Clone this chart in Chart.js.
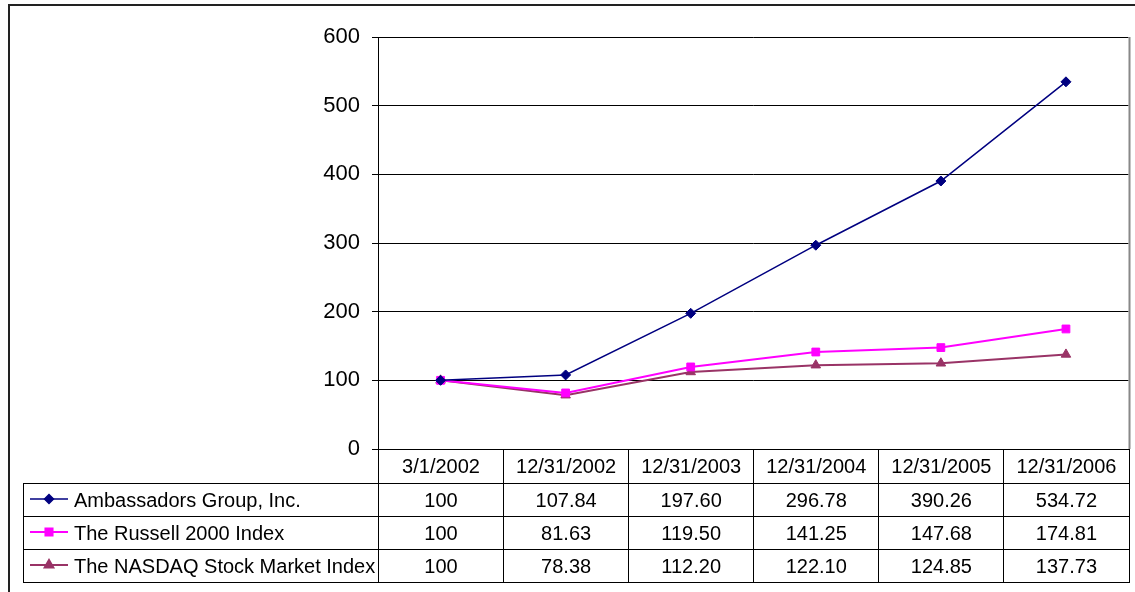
<!DOCTYPE html>
<html>
<head>
<meta charset="utf-8">
<script src="https://cdn.jsdelivr.net/npm/chart.js@4.4.0/dist/chart.umd.min.js"></script>
<style>
  body { margin: 0; background: #fff; font-family: 'Liberation Sans', Arial, sans-serif; }
  #wrap { position: relative; width: 1135px; height: 592px; overflow: hidden; }
  #frame { position: absolute; left: 8px; top: 4px; width: 1200px; height: 700px; border-left: 2px solid #222; border-top: 2px solid #222; }
  #chart { position: absolute; left: 0; top: 0; }
  #tbl { position: absolute; border-collapse: collapse; table-layout: fixed; font-size: 20px; color: #000; }
  #tbl td { border: 1px solid #000; text-align: center; padding: 0; white-space: nowrap; overflow: hidden; }
  #tbl tr.head td { height: 33px; }
  #tbl tr.row td { height: 32px; }
  #tbl td.blank { border-top: none; border-left: none; }
  #tbl td.name { text-align: left; padding-left: 5px; }
  #tbl td.name canvas { vertical-align: middle; margin-right: 5px; position: relative; top: -2px; }
</style>
</head>
<body>
<div id="wrap">
  <div id="frame"></div>
  <canvas id="chart" width="1135" height="592"></canvas>
  <table id="tbl"></table>
</div>
<script>
// dates on the x axis
const dates = ['3/1/2002', '12/31/2002', '12/31/2003', '12/31/2004', '12/31/2005', '12/31/2006'];
// series names
const seriesNames = ['Ambassadors Group, Inc.', 'The Russell 2000 Index', 'The NASDAQ Stock Market Index'];
// values as shown in the table
const ambassadors = [100, 107.84, 197.60, 296.78, 390.26, 534.72];
const russell = [100, 81.63, 119.50, 141.25, 147.68, 174.81];
const nasdaq = [100, 78.38, 112.20, 122.10, 124.85, 137.73];
// y axis ticks
const yTicks = [0, 100, 200, 300, 400, 500, 600];

const tableText = [
  ['100', '107.84', '197.60', '296.78', '390.26', '534.72'],
  ['100', '81.63', '119.50', '141.25', '147.68', '174.81'],
  ['100', '78.38', '112.20', '122.10', '124.85', '137.73']
];

const styles = [
  { color: '#000080', point: 'rectRot', radius: 5, width: 1.5 },
  { color: '#FF00FF', point: 'rect', radius: 5.5, width: 2 },
  { color: '#993366', point: 'triangle', radius: 5.5, width: 2 }
];
const seriesData = [ambassadors, russell, nasdaq];

// gray border on the right of the plot area
const plotBorder = {
  id: 'plotBorder',
  afterDraw(chart) {
    const ctx = chart.ctx, a = chart.chartArea;
    ctx.save();
    ctx.strokeStyle = '#888';
    ctx.lineWidth = 2;
    ctx.beginPath();
    ctx.moveTo(a.right + 1, a.top);
    ctx.lineTo(a.right + 1, a.bottom);
    ctx.stroke();
    ctx.restore();
  }
};

const chart = new Chart(document.getElementById('chart'), {
  type: 'line',
  data: {
    labels: dates,
    datasets: seriesData.map((d, i) => ({
      label: seriesNames[i],
      data: d,
      borderColor: styles[i].color,
      backgroundColor: styles[i].color,
      borderWidth: styles[i].width,
      pointStyle: styles[i].point,
      pointRadius: styles[i].radius,
      pointBorderWidth: 1,
      tension: 0
    }))
  },
  options: {
    responsive: false,
    animation: false,
    layout: { padding: { top: 37, right: 5, left: 0, bottom: 0 } },
    plugins: { legend: { display: false }, tooltip: { enabled: false } },
    scales: {
      x: {
        offset: true,
        grid: { display: false, offset: true },
        border: { display: false },
        ticks: { display: false },
        afterFit(s) { s.height = 143; }
      },
      y: {
        min: yTicks[0],
        max: yTicks[yTicks.length - 1],
        afterBuildTicks(s) { s.ticks = yTicks.map(v => ({ value: v })); },
        grid: { color: '#000', lineWidth: 1, tickLength: 6, drawTicks: true },
        border: { color: '#000', width: 1 },
        ticks: { color: '#000', padding: 12, font: { family: "'Liberation Sans', Arial", size: 22 } },
        afterFit(s) { s.width = 378; }
      }
    }
  },
  plugins: [plotBorder]
});

// data table under the plot, columns aligned with the x scale
(function buildTable() {
  const a = chart.chartArea;
  const colW = (a.right - a.left) / dates.length;
  const nameLeft = 23;
  const tbl = document.getElementById('tbl');
  tbl.style.left = nameLeft + 'px';
  tbl.style.top = Math.round(a.bottom) + 'px';
  let html = '<colgroup><col style="width:' + (a.left - nameLeft) + 'px">';
  dates.forEach(() => { html += '<col style="width:' + colW + 'px">'; });
  html += '</colgroup><tr class="head"><td class="blank"></td>';
  dates.forEach(d => { html += '<td>' + d + '</td>'; });
  html += '</tr>';
  seriesNames.forEach((n, i) => {
    html += '<tr class="row"><td class="name"><canvas class="mk" width="40" height="14" data-i="' + i + '"></canvas>' + n + '</td>';
    tableText[i].forEach(v => { html += '<td>' + v + '</td>'; });
    html += '</tr>';
  });
  tbl.innerHTML = html;
  tbl.style.width = (a.right - nameLeft + 1) + 'px';

  document.querySelectorAll('canvas.mk').forEach(c => {
    const i = +c.dataset.i, s = styles[i];
    const ctx = c.getContext('2d');
    ctx.strokeStyle = s.color;
    ctx.fillStyle = s.color;
    ctx.lineWidth = s.width;
    ctx.beginPath();
    ctx.moveTo(1, 7);
    ctx.lineTo(39, 7);
    ctx.stroke();
    Chart.helpers.drawPoint(ctx, { pointStyle: s.point, radius: s.radius - 0.5, borderWidth: 1 }, 20, 7);
  });
})();
</script>
</body>
</html>
